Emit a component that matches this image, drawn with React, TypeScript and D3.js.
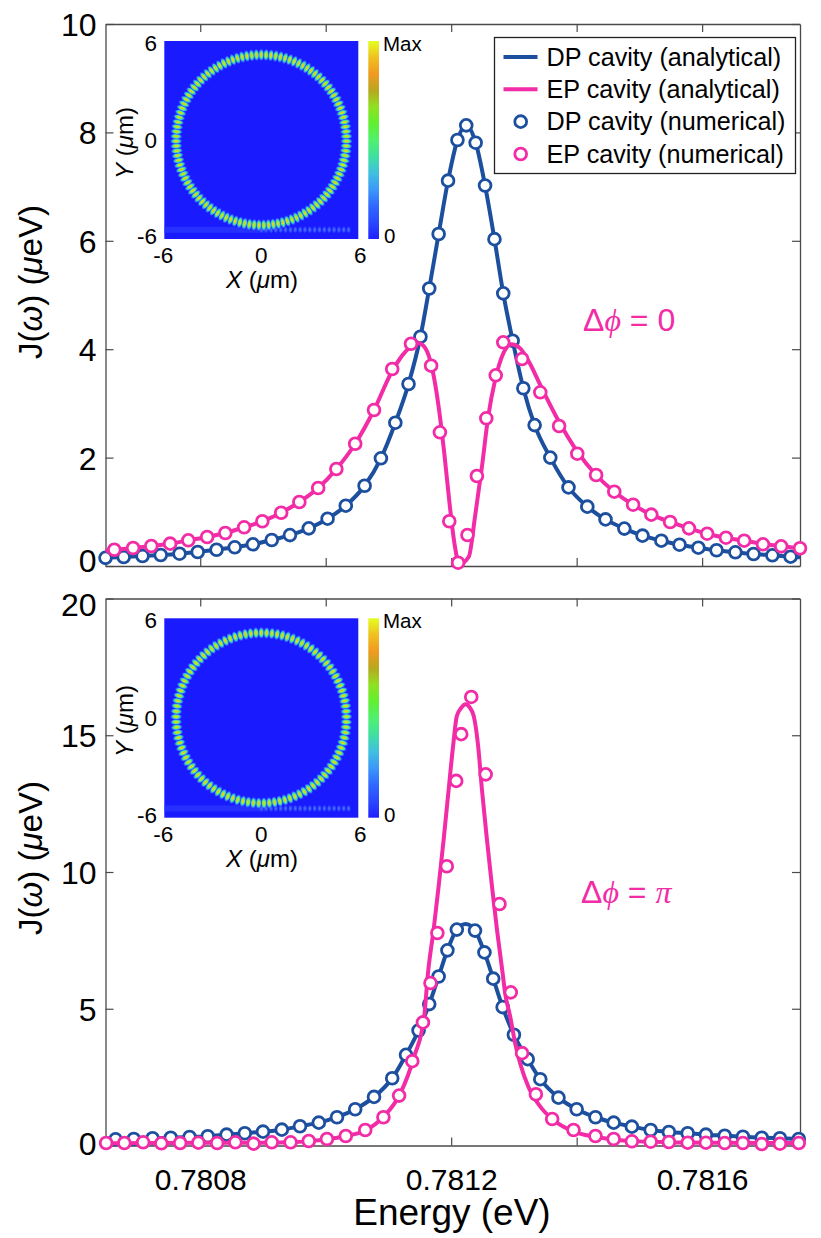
import { useEffect, useRef } from "react";
import * as d3 from "d3";

const BLUE = "#1d4f9f";
const PINK = "#f22ca6";
const AXIS = "#4a4a4a";
const FONT = "'Liberation Sans', Arial, sans-serif";
const FIELD_BG = "#1a1aff";

// top panel (delta phi = 0)
const dpTopEnergy = [
  0.780649, 0.780678, 0.780708, 0.780737, 0.780767, 0.780796, 0.780826, 0.780855, 0.780884, 0.780914,
  0.780943, 0.780973, 0.781003, 0.781032, 0.781062, 0.781088, 0.781111, 0.781132, 0.781151, 0.781165,
  0.78118, 0.781195, 0.78121, 0.781224, 0.781239, 0.781254, 0.781269, 0.781283, 0.781298, 0.781315,
  0.781333, 0.781358, 0.781387, 0.781417, 0.781446, 0.781476, 0.781505, 0.781535, 0.781564, 0.781594,
  0.781623, 0.781653, 0.781682, 0.781712, 0.781741,
];
const dpTopValues = [
  0.15, 0.166, 0.185, 0.203, 0.227, 0.258, 0.3, 0.345, 0.4, 0.48,
  0.57, 0.695, 0.873, 1.113, 1.48, 1.987, 2.644, 3.358, 4.23, 5.12,
  6.125, 7.11, 7.86, 8.13, 7.81, 7.02, 6.03, 5.03, 4.157, 3.28,
  2.6, 2.0, 1.45, 1.095, 0.86, 0.69, 0.56, 0.467, 0.393, 0.338,
  0.29, 0.253, 0.221, 0.197, 0.172,
];
const epTopEnergy = [
  0.780663, 0.780693, 0.780722, 0.780752, 0.780781, 0.780811, 0.78084, 0.78087, 0.780899, 0.780929,
  0.780958, 0.780988, 0.781017, 0.781047, 0.781077, 0.781106, 0.781136, 0.781168, 0.781182, 0.781197,
  0.781211, 0.781226, 0.781241, 0.781256, 0.781271, 0.781283, 0.781313, 0.781342, 0.781372, 0.781401,
  0.781431, 0.78146, 0.78149, 0.781519, 0.781549, 0.781579, 0.781608, 0.781638, 0.781667, 0.781697,
  0.781726, 0.781756,
];
const epTopValues = [
  0.3, 0.332, 0.369, 0.412, 0.474, 0.535, 0.609, 0.714, 0.825, 0.983,
  1.181, 1.439, 1.79, 2.256, 2.878, 3.635, 4.1, 3.696, 2.467, 0.825,
  0.061, 0.572, 1.66, 2.725, 3.518, 4.127, 3.819, 3.205, 2.583, 2.072,
  1.679, 1.371, 1.131, 0.947, 0.812, 0.695, 0.596, 0.522, 0.467, 0.4,
  0.363, 0.327,
];
const dpTopLineEnergy = [...dpTopEnergy, 0.781756];
const dpTopLineValues = [...dpTopValues, 0.16];
const epTopLineEnergy = [
  0.780649, 0.780693, 0.780722, 0.780752, 0.780781, 0.780811, 0.78084, 0.78087, 0.780899, 0.780929,
  0.780958, 0.780988, 0.781017, 0.781047, 0.781077, 0.781106, 0.781136, 0.781148, 0.781159, 0.781169,
  0.78118, 0.781189, 0.781198, 0.781206, 0.781213, 0.781228, 0.781238, 0.781249, 0.781259, 0.78127,
  0.781283, 0.781296, 0.78131, 0.781324, 0.781342, 0.781372, 0.781401, 0.781431, 0.78146, 0.78149,
  0.781519, 0.781549, 0.781579, 0.781608, 0.781638, 0.781667, 0.781697, 0.781726, 0.781756,
];
const epTopLineValues = [
  0.28, 0.332, 0.369, 0.412, 0.474, 0.535, 0.609, 0.714, 0.825, 0.983,
  1.181, 1.439, 1.79, 2.256, 2.878, 3.6, 4.05, 4.11, 4.016, 3.68,
  2.94, 2.08, 1.09, 0.356, 0.03, 0.17, 0.91, 1.83, 2.755, 3.43,
  3.92, 4.09, 4.015, 3.77, 3.34, 2.66, 2.11, 1.679, 1.371, 1.131,
  0.947, 0.812, 0.695, 0.596, 0.522, 0.467, 0.41, 0.363, 0.327,
];

// bottom panel (delta phi = pi)
const dpBottomEnergy = [
  0.780665, 0.780694, 0.780724, 0.780753, 0.780783, 0.780812, 0.780842, 0.780871, 0.7809, 0.78093,
  0.780959, 0.780989, 0.781018, 0.781047, 0.781077, 0.781106, 0.781128, 0.781148, 0.781165, 0.78118,
  0.781194, 0.781209, 0.781238, 0.781253, 0.781267, 0.781282, 0.7813, 0.781322, 0.781342, 0.781371,
  0.7814, 0.78143, 0.781459, 0.781488, 0.781518, 0.781547, 0.781577, 0.781606, 0.781636, 0.781665,
  0.781695, 0.781724, 0.781754,
];
const dpBottomValues = [
  0.227, 0.238, 0.264, 0.286, 0.311, 0.337, 0.396, 0.447, 0.506, 0.579,
  0.703, 0.835, 1.033, 1.326, 1.777, 2.46, 3.315, 4.205, 5.17, 6.18,
  7.136, 7.894, 7.857, 7.06, 6.1, 5.06, 4.05, 3.157, 2.425, 1.75,
  1.326, 1.033, 0.835, 0.689, 0.568, 0.495, 0.447, 0.396, 0.359, 0.322,
  0.286, 0.264, 0.238,
];
const epBottomEnergy = [
  0.78065, 0.780679, 0.780709, 0.780738, 0.780768, 0.780797, 0.780827, 0.780856, 0.780885, 0.780914,
  0.780944, 0.780973, 0.781002, 0.781032, 0.781063, 0.781092, 0.781117, 0.781138, 0.781155, 0.781167,
  0.781178, 0.781193, 0.781208, 0.781216, 0.781232, 0.781255, 0.781277, 0.781295, 0.781313, 0.781335,
  0.781361, 0.781395, 0.78143, 0.781459, 0.781488, 0.781518, 0.781547, 0.781577, 0.781606, 0.781636,
  0.781665, 0.781695, 0.781724, 0.781754,
];
const epBottomValues = [
  0.092, 0.092, 0.117, 0.08, 0.092, 0.103, 0.092, 0.117, 0.067, 0.117,
  0.117, 0.165, 0.238, 0.348, 0.568, 1.033, 1.824, 3.084, 4.5, 5.94,
  7.77, 10.21, 13.33, 15.04, 16.4, 13.57, 8.83, 5.6, 3.377, 1.875,
  0.97, 0.568, 0.348, 0.238, 0.154, 0.139, 0.128, 0.103, 0.103, 0.092,
  0.092, 0.055, 0.066, 0.092,
];
const dpBottomLineEnergy = [
  0.780649, ...dpBottomEnergy.slice(0, 22), 0.781223, ...dpBottomEnergy.slice(22), 0.781756,
];
const dpBottomLineValues = [
  0.2, ...dpBottomValues.slice(0, 22), 8.1, ...dpBottomValues.slice(22), 0.23,
];
const epBottomLineEnergy = [
  0.780649, 0.780709, 0.780797, 0.780884, 0.780943, 0.780973, 0.781002, 0.781032, 0.781062, 0.781092,
  0.781119, 0.781141, 0.781157, 0.781163, 0.781172, 0.78118, 0.781188, 0.781196, 0.781203, 0.781209,
  0.781216, 0.781223, 0.78123, 0.781236, 0.781243, 0.781249, 0.781257, 0.781265, 0.781273, 0.781282,
  0.781286, 0.781294, 0.781302, 0.78131, 0.781323, 0.781342, 0.781363, 0.781395, 0.78143, 0.781459,
  0.781488, 0.781547, 0.781635, 0.781756,
];
const epBottomLineValues = [
  0.08, 0.09, 0.1, 0.1, 0.12, 0.16, 0.23, 0.35, 0.54, 1.05,
  1.91, 3.25, 4.72, 6.3, 7.89, 9.48, 11.19, 13.02, 14.6, 15.7,
  16.0, 16.13, 16.0, 15.7, 14.6, 13.02, 11.19, 9.48, 7.89, 6.3,
  5.57, 4.72, 3.74, 3.0, 2.15, 1.42, 0.93, 0.51, 0.32, 0.22,
  0.16, 0.12, 0.1, 0.09,
];

const energyDomain = [0.780649, 0.781756];
const energyTicks = [0.7808, 0.781, 0.7812, 0.7814, 0.7816];
const energyLabels = [0.7808, 0.7812, 0.7816];
const topTicks = [0, 2, 4, 6, 8, 10];
const bottomTicks = [0, 5, 10, 15, 20];
const insetTicks = [-6, 0, 6];

const legendEntries = [
  "DP cavity (analytical)",
  "EP cavity (analytical)",
  "DP cavity (numerical)",
  "EP cavity (numerical)",
];
const colorbarStops = [
  "#1f20ff", "#2a48ff", "#3068ff", "#3c98f8", "#40c0e0", "#40e0a0",
  "#50f070", "#60f030", "#90e020", "#b8a820", "#f09a20", "#f0c020", "#e4ff20",
];

const LEFT = 105.5;
const RIGHT = 800;

function pairs(xs: number[], ys: number[]) {
  return d3.zip(xs, ys) as [number, number][];
}

export default function App() {
  const svgRef = useRef<SVGSVGElement>(null);

  useEffect(() => {
    if (!svgRef.current) return;
    const svg = d3.select(svgRef.current);
    svg.selectAll("*").remove();

    const defs = svg.append("defs");

    // colorbar fill
    const barGrad = defs
      .append("linearGradient")
      .attr("id", "barGrad")
      .attr("x1", 0)
      .attr("y1", 1)
      .attr("x2", 0)
      .attr("y2", 0);
    colorbarStops.forEach((c, i) => {
      barGrad
        .append("stop")
        .attr("offset", i / (colorbarStops.length - 1))
        .attr("stop-color", c);
    });

    // one bead of the ring
    const beadGrad = defs.append("radialGradient").attr("id", "beadGrad");
    [
      [0, "#f0b020", 1],
      [0.22, "#d8e020", 1],
      [0.42, "#60f060", 1],
      [0.62, "#40c0e0", 0.95],
      [0.82, "#3060ff", 0.6],
      [1, "#1a1aff", 0],
    ].forEach(([o, c, a]) => {
      beadGrad
        .append("stop")
        .attr("offset", o as number)
        .attr("stop-color", c as string)
        .attr("stop-opacity", a as number);
    });
    const stripGrad = defs.append("radialGradient").attr("id", "stripGrad");
    [
      [0, "#4a78ff", 1],
      [0.6, "#3350ff", 0.8],
      [1, "#1a1aff", 0],
    ].forEach(([o, c, a]) => {
      stripGrad
        .append("stop")
        .attr("offset", o as number)
        .attr("stop-color", c as string)
        .attr("stop-opacity", a as number);
    });

    const x = d3.scaleLinear().domain(energyDomain).range([LEFT, RIGHT]);

    function drawPanel(opts: {
      top: number;
      bottom: number;
      yMax: number;
      ticks: number[];
      labelled: boolean;
      nudge: (v: number) => number;
      dpLine: [number, number][];
      epLine: [number, number][];
      dpPoints: [number, number][];
      epPoints: [number, number][];
    }) {
      const y = d3.scaleLinear().domain([0, opts.yMax]).range([opts.bottom, opts.top]);
      const g = svg.append("g");

      const line = d3
        .line<[number, number]>()
        .x((d) => x(d[0]))
        .y((d) => y(d[1]))
        .curve(d3.curveMonotoneX);

      // Frame and ticks
      const styleAxis = (a: d3.Selection<SVGGElement, unknown, null, undefined>) => {
        a.selectAll("path").attr("stroke", AXIS).attr("stroke-width", 1.3);
        a.selectAll("line").attr("stroke", AXIS).attr("stroke-width", 1.2);
        a.attr("font-family", FONT);
      };
      g.append("g")
        .attr("transform", `translate(0,${opts.bottom})`)
        .call(d3.axisBottom(x).tickValues(energyTicks).tickSize(-8).tickSizeOuter(0).tickFormat((d) =>
          opts.labelled && energyLabels.includes(+d) ? d3.format(".4f")(+d) : ""
        ))
        .call(styleAxis)
        .call((a) =>
          a.selectAll("text").attr("y", 44).attr("dy", 0).attr("font-size", 30).attr("fill", "#000")
        );
      g.append("g")
        .attr("transform", `translate(0,${opts.top})`)
        .call(d3.axisTop(x).tickValues(energyTicks).tickSize(-8).tickSizeOuter(0).tickFormat(() => ""))
        .call(styleAxis);
      g.append("g")
        .attr("transform", `translate(${LEFT},0)`)
        .call(d3.axisLeft(y).tickValues(opts.ticks).tickSize(-8).tickSizeOuter(0).tickFormat((d) => String(d)))
        .call(styleAxis)
        .call((a) =>
          a
            .selectAll<SVGTextElement, number>("text")
            .attr("x", -9)
            .attr("dy", (d) => `${0.36 + opts.nudge(d) / 32}em`)
            .attr("font-size", 32)
            .attr("fill", "#000")
        );
      g.append("g")
        .attr("transform", `translate(${RIGHT},0)`)
        .call(d3.axisRight(y).tickValues(opts.ticks).tickSize(-8).tickSizeOuter(0).tickFormat(() => ""))
        .call(styleAxis);

      // Curves then circles, DP below EP
      const series = [
        { color: BLUE, curve: opts.dpLine, points: opts.dpPoints },
        { color: PINK, curve: opts.epLine, points: opts.epPoints },
      ];
      series.forEach((s) => {
        g.append("path")
          .attr("d", line(s.curve))
          .attr("fill", "none")
          .attr("stroke", s.color)
          .attr("stroke-width", 4)
          .attr("stroke-linejoin", "round");
        g.append("g")
          .selectAll("circle")
          .data(s.points)
          .enter()
          .append("circle")
          .attr("cx", (d) => x(d[0]))
          .attr("cy", (d) => y(d[1]))
          .attr("r", 5.9)
          .attr("fill", "#fff")
          .attr("stroke", s.color)
          .attr("stroke-width", 2.8);
      });
    }

    drawPanel({
      top: 24,
      bottom: 566,
      yMax: 10,
      ticks: topTicks,
      labelled: false,
      nudge: (v) => (v === 0 ? -6 : 0),
      dpLine: pairs(dpTopLineEnergy, dpTopLineValues),
      epLine: pairs(epTopLineEnergy, epTopLineValues),
      dpPoints: pairs(dpTopEnergy, dpTopValues),
      epPoints: pairs(epTopEnergy, epTopValues),
    });
    drawPanel({
      top: 598.5,
      bottom: 1145.5,
      yMax: 20,
      ticks: bottomTicks,
      labelled: true,
      nudge: (v) => (v === 20 ? 5 : v === 0 ? -3 : 0),
      dpLine: pairs(dpBottomLineEnergy, dpBottomLineValues),
      epLine: pairs(epBottomLineEnergy, epBottomLineValues),
      dpPoints: pairs(dpBottomEnergy, dpBottomValues),
      epPoints: pairs(epBottomEnergy, epBottomValues),
    });

    function drawInset(opts: {
      top: number;
      bottom: number;
      beads: number;
      beadRx: number;
      beadRy: number;
      stripStartUm: number;
    }) {
      const ix = d3.scaleLinear().domain([-6, 6]).range([164.3, 358.3]);
      const iy = d3.scaleLinear().domain([-6, 6]).range([opts.bottom, opts.top]);
      const g = svg.append("g").attr("font-family", FONT).attr("fill", "#000");

      g.append("rect")
        .attr("x", ix(-6))
        .attr("y", opts.top)
        .attr("width", ix(6) - ix(-6))
        .attr("height", opts.bottom - opts.top)
        .attr("fill", FIELD_BG);

      // bus waveguide strip along the bottom of the field
      const stripY = iy(-5.44);
      g.append("rect")
        .attr("x", ix(-6))
        .attr("y", stripY - 3)
        .attr("width", ix(opts.stripStartUm) - ix(-6) + 4)
        .attr("height", 6)
        .attr("fill", "#2c3cff")
        .attr("opacity", 0.65);
      g.append("g")
        .selectAll("ellipse")
        .data(d3.range(opts.stripStartUm, 5.45, 0.3))
        .enter()
        .append("ellipse")
        .attr("cx", (d) => ix(d))
        .attr("cy", stripY)
        .attr("rx", 2.6)
        .attr("ry", 4)
        .attr("fill", "url(#stripGrad)");

      // resonator ring
      const cx = ix(0);
      const cy = iy(0);
      const ringR = ix(5.27) - ix(0);
      g.append("g")
        .selectAll("ellipse")
        .data(d3.range(opts.beads))
        .enter()
        .append("ellipse")
        .attr("rx", opts.beadRx)
        .attr("ry", opts.beadRy)
        .attr("fill", "url(#beadGrad)")
        .attr("transform", (i) => {
          const a = (i / opts.beads) * 360;
          return `translate(${cx},${cy}) rotate(${a}) translate(0,${-ringR})`;
        });

      // colorbar
      g.append("rect")
        .attr("x", 368.3)
        .attr("y", opts.top)
        .attr("width", 10.7)
        .attr("height", opts.bottom - opts.top)
        .attr("fill", "url(#barGrad)");
      g.append("text")
        .attr("x", 383)
        .attr("y", opts.top + 10)
        .attr("font-size", 20.5)
        .text("Max");
      g.append("text")
        .attr("x", 384)
        .attr("y", opts.bottom + 4)
        .attr("font-size", 20.5)
        .text("0");

      // tick labels
      g.append("g")
        .selectAll("text")
        .data(insetTicks)
        .enter()
        .append("text")
        .attr("x", 157)
        .attr("y", (d) => iy(d) + (d === 6 ? 10 : d === 0 ? 8 : 5))
        .attr("text-anchor", "end")
        .attr("font-size", 22.5)
        .text((d) => d);
      g.append("g")
        .selectAll("text")
        .data(insetTicks)
        .enter()
        .append("text")
        .attr("x", (d) => ix(d) + (d === -6 ? -1 : d === 6 ? 2 : 0))
        .attr("y", opts.bottom + 24)
        .attr("text-anchor", "middle")
        .attr("font-size", 22.5)
        .text((d) => d);

      // axis names
      const xName = g
        .append("text")
        .attr("x", 262)
        .attr("y", opts.bottom + 49)
        .attr("text-anchor", "middle")
        .attr("font-size", 24);
      xName.append("tspan").attr("font-style", "italic").text("X");
      xName.append("tspan").text(" (");
      xName.append("tspan").attr("font-style", "italic").text("μ");
      xName.append("tspan").text("m)");

      const yName = g
        .append("text")
        .attr("transform", `translate(133,${cy + 3}) rotate(-90)`)
        .attr("text-anchor", "middle")
        .attr("font-size", 24);
      yName.append("tspan").attr("font-style", "italic").text("Y");
      yName.append("tspan").text(" (");
      yName.append("tspan").attr("font-style", "italic").text("μ");
      yName.append("tspan").text("m)");
    }

    drawInset({ top: 41, bottom: 239, beads: 111, beadRx: 3.2, beadRy: 6.6, stripStartUm: 0 });
    drawInset({ top: 618.3, bottom: 817.7, beads: 101, beadRx: 3.4, beadRy: 6.4, stripStartUm: 0 });

    // Legend
    const legend = svg.append("g").attr("font-family", FONT);
    legend
      .append("rect")
      .attr("x", 494.5)
      .attr("y", 37.5)
      .attr("width", 301)
      .attr("height", 136)
      .attr("fill", "#fff")
      .attr("stroke", "#222")
      .attr("stroke-width", 1.3);
    const legendY = d3.scalePoint<number>().domain([0, 1, 2, 3]).range([57, 154]);
    const legendColors = [BLUE, PINK, BLUE, PINK];
    legendEntries.forEach((label, i) => {
      const ly = legendY(i) as number;
      if (i < 2) {
        legend
          .append("line")
          .attr("x1", 503.5)
          .attr("x2", 537.5)
          .attr("y1", ly)
          .attr("y2", ly)
          .attr("stroke", legendColors[i])
          .attr("stroke-width", 4);
      } else {
        legend
          .append("circle")
          .attr("cx", 520.7)
          .attr("cy", ly)
          .attr("r", 5.9)
          .attr("fill", "#fff")
          .attr("stroke", legendColors[i])
          .attr("stroke-width", 2.8);
      }
      legend
        .append("text")
        .attr("x", 546.5)
        .attr("y", ly + 8.7)
        .attr("font-size", 25.2)
        .attr("fill", "#000")
        .text(label);
    });

    // Shared axis titles
    const titles = svg.append("g").attr("font-family", FONT).attr("fill", "#000");
    titles
      .append("text")
      .attr("x", 452)
      .attr("y", 1225)
      .attr("text-anchor", "middle")
      .attr("font-size", 37)
      .text("Energy (eV)");
    [282, 858].forEach((cy) => {
      const t = titles
        .append("text")
        .attr("transform", `translate(42,${cy}) rotate(-90)`)
        .attr("text-anchor", "middle")
        .attr("font-size", 33);
      t.append("tspan").text("J(");
      t.append("tspan").attr("font-style", "italic").text("ω");
      t.append("tspan").text(") (");
      t.append("tspan").attr("font-style", "italic").text("μ");
      t.append("tspan").text("eV)");
    });

    // Phase annotations
    const notes = [
      { x: 583, y: 331, end: "0" },
      { x: 581, y: 903, end: "π" },
    ];
    notes.forEach((n) => {
      const t = svg
        .append("text")
        .attr("x", n.x)
        .attr("y", n.y)
        .attr("font-family", FONT)
        .attr("font-size", 32)
        .attr("fill", PINK);
      t.append("tspan").text("Δ");
      t.append("tspan")
        .attr("font-family", "'Liberation Serif', serif")
        .attr("font-style", "italic")
        .text("ϕ");
      t.append("tspan").text(" = ");
      t.append("tspan")
        .attr("font-family", n.end === "π" ? "'Liberation Serif', serif" : FONT)
        .attr("font-style", n.end === "π" ? "italic" : "normal")
        .text(n.end);
    });
  }, []);

  return (
    <div style={{ position: "absolute", left: 0, top: 0 }}>
      <svg ref={svgRef} width={821} height={1238} style={{ display: "block", background: "#fff" }} />
    </div>
  );
}
